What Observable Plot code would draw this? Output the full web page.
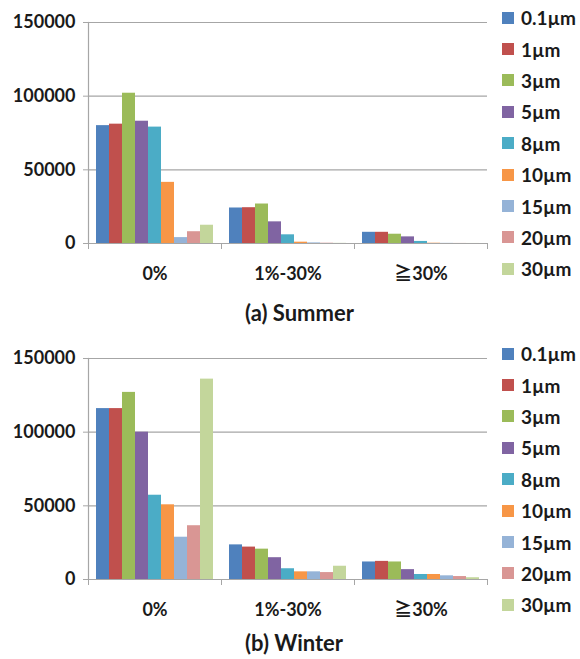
<!DOCTYPE html>
<html>
<head>
<meta charset="utf-8">
<script src="https://cdn.jsdelivr.net/npm/d3@7"></script>
<script src="https://cdn.jsdelivr.net/npm/@observablehq/plot@0.6"></script>
<style>
  body { margin: 0; background: #fff; }
  #wrap { position: relative; width: 580px; height: 659px; overflow: hidden; font-family: Lato, "Noto Sans CJK JP", sans-serif; }
  .panel { position: absolute; left: 0; }
  .title { position: absolute; left: 245px; font: bold 22px Lato, sans-serif; color: #1a1a1a; line-height: 1; }
  .legend { position: absolute; left: 502px; }
  .legend [class$="-swatch"] { height: 31.4px; margin: 0 !important; padding: 0 !important; display: flex; align-items: center; }
  .legend svg { margin-right: 7px !important; }
</style>
</head>
<body>
<div id="wrap"></div>
<script>
const categories = ["0%", "1%-30%", "≧30%"];
const sizes = ["0.1µm", "1µm", "3µm", "5µm", "8µm", "10µm", "15µm", "20µm", "30µm"];
const colors = ["#4F81BD", "#C0504D", "#9BBB59", "#8064A2", "#4BACC6", "#F79646", "#95B3D7", "#D99694", "#C3D69B"];
const yTicks = [0, 50000, 100000, 150000];

const summer0 = [80000, 81000, 102000, 83000, 79000, 41500, 4000, 8000, 12400];
const summer1 = [24100, 24300, 26800, 14700, 5900, 900, 400, 200, 100];
const summer2 = [7600, 7600, 6300, 4500, 1400, 200, 100, 50, 30];
const winter0 = [116000, 116000, 127000, 100000, 57200, 50700, 28700, 36500, 136000];
const winter1 = [23500, 22000, 20600, 14800, 7300, 5200, 5200, 4700, 9000];
const winter2 = [11900, 12300, 11900, 6700, 3400, 3400, 2500, 2000, 1200];

const panels = [
  {series: [summer0, summer1, summer2], title: "(a) Summer", top: 0, titleTop: 302},
  {series: [winter0, winter1, winter2], title: "(b) Winter", top: 336, titleTop: 632}
];

const W = 580, ML = 88, MR = 93, MT = 22, MB = 47, H = 290;
const step = (W - ML - MR) / categories.length;
const gray = "#a6a6a6";
const wrap = document.getElementById("wrap");

for (const p of panels) {
  const data = [];
  p.series.forEach((vals, ci) => vals.forEach((v, si) => data.push({cat: categories[ci], size: sizes[si], value: v})));
  const chart = Plot.plot({
    width: W, height: H,
    marginLeft: ML, marginRight: MR, marginTop: MT, marginBottom: MB,
    style: {fontFamily: 'Lato, "Noto Sans CJK JP", sans-serif', fontSize: "18px", fontWeight: "bold", color: "#1a1a1a", background: "transparent"},
    fx: {domain: categories, padding: 0, label: null, axis: null},
    x: {domain: sizes, paddingInner: 0, paddingOuter: 0.5, axis: null},
    y: {domain: [0, 150000], axis: null},
    color: {domain: sizes, range: colors},
    marks: [
      Plot.ruleY(yTicks.filter(d => d > 0), {stroke: gray, strokeWidth: 1.2}),
      Plot.barY(data, {fx: "cat", x: "size", y: "value", fill: "size", inset: 0}),
      Plot.ruleY([0], {stroke: gray, strokeWidth: 1.2}),
      Plot.frame({anchor: "left", stroke: gray, strokeWidth: 1.2, facetAnchor: "left"}),
      Plot.axisY({ticks: yTicks, tickSize: 5, tickPadding: 8, tickFormat: d => String(d), stroke: gray, fontSize: 18, fill: "#1a1a1a", label: null}),
      Plot.axisFx({anchor: "bottom", text: null, tickSize: 6, dx: -step / 2, stroke: gray, label: null}),
      Plot.axisFx({anchor: "bottom", ticks: [categories[categories.length - 1]], text: null, tickSize: 6, dx: step / 2, stroke: gray, label: null}),
      Plot.axisFx({anchor: "bottom", tickSize: 0, tickPadding: 24, fontSize: 18, fill: "#1a1a1a", label: null})
    ]
  });
  const div = document.createElement("div");
  div.className = "panel";
  div.style.top = p.top + "px";
  div.appendChild(chart);
  wrap.appendChild(div);

  const leg = Plot.legend({
    color: {domain: sizes, range: colors},
    legend: "swatches", columns: 1, swatchSize: 12, className: "lg",
    style: {fontFamily: 'Lato, sans-serif', fontSize: "19px", fontWeight: "bold", color: "#1a1a1a", margin: "0"}
  });
  const ldiv = document.createElement("div");
  ldiv.className = "legend";
  ldiv.style.top = (p.top + 2) + "px";
  ldiv.appendChild(leg);
  wrap.appendChild(ldiv);

  const t = document.createElement("div");
  t.className = "title";
  t.style.top = p.titleTop + "px";
  t.textContent = p.title;
  wrap.appendChild(t);
}
</script>
</body>
</html>
